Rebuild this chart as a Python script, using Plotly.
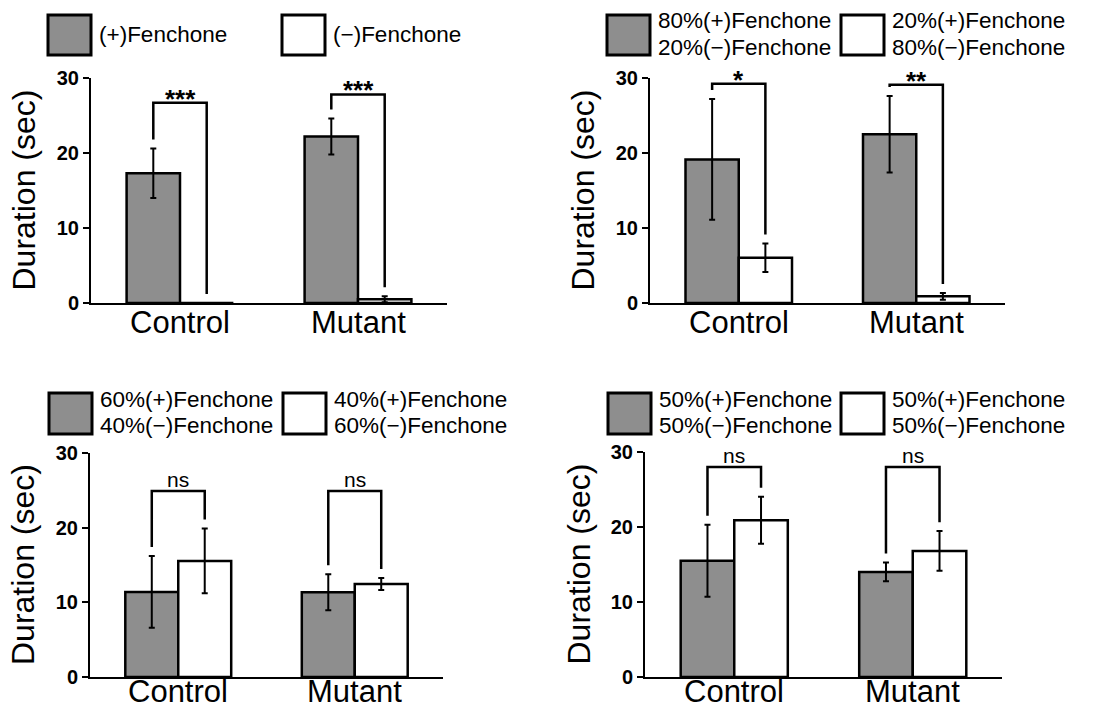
import plotly.graph_objects as go

W, H = 1095, 710

categories = ["Control", "Mutant"]
y_ticks = [0, 10, 20, 30]

# Panel 1: (+)Fenchone vs (-)Fenchone
p1_grey = [17.3, 22.2]
p1_grey_err = [3.3, 2.4]
p1_white = [0.0, 0.5]
p1_white_err = [0.0, 0.4]
p1_bracket = [26.7, 27.8]
p1_sig = ["***", "***"]
p1_leg_grey = ["(+)Fenchone"]
p1_leg_white = ["(\u2212)Fenchone"]

# Panel 2: 80/20 vs 20/80
p2_grey = [19.15, 22.5]
p2_grey_err = [8.05, 5.1]
p2_white = [6.05, 0.9]
p2_white_err = [1.9, 0.45]
p2_bracket = [29.25, 29.1]
p2_sig = ["*", "**"]
p2_leg_grey = ["80%(+)Fenchone", "20%(\u2212)Fenchone"]
p2_leg_white = ["20%(+)Fenchone", "80%(\u2212)Fenchone"]

# Panel 3: 60/40 vs 40/60
p3_grey = [11.4, 11.35]
p3_grey_err = [4.8, 2.4]
p3_white = [15.55, 12.45]
p3_white_err = [4.35, 0.8]
p3_bracket = [24.9, 24.9]
p3_sig = ["ns", "ns"]
p3_leg_grey = ["60%(+)Fenchone", "40%(\u2212)Fenchone"]
p3_leg_white = ["40%(+)Fenchone", "60%(\u2212)Fenchone"]

# Panel 4: 50/50 vs 50/50
p4_grey = [15.5, 14.0]
p4_grey_err = [4.8, 1.25]
p4_white = [20.9, 16.8]
p4_white_err = [3.15, 2.65]
p4_bracket = [28.0, 28.0]
p4_sig = ["ns", "ns"]
p4_leg_grey = ["50%(+)Fenchone", "50%(\u2212)Fenchone"]
p4_leg_white = ["50%(+)Fenchone", "50%(\u2212)Fenchone"]

GREY = "#8e8e8e"
FONT = "Liberation Sans, Arial, Helvetica, sans-serif"
BAR_W = 0.3
GAP = 1.2


def px(x):
    return x / W


def py(y):
    return 1 - y / H


panels = [
    dict(grey=p1_grey, grey_err=p1_grey_err, white=p1_white, white_err=p1_white_err,
         bracket=p1_bracket, sig=p1_sig, lg=p1_leg_grey, lw=p1_leg_white,
         box=(91, 447, 78, 303), lab=19, leg=dict(gx=48, wx=282, y0=15, y1=55)),
    dict(grey=p2_grey, grey_err=p2_grey_err, white=p2_white, white_err=p2_white_err,
         bracket=p2_bracket, sig=p2_sig, lg=p2_leg_grey, lw=p2_leg_white,
         box=(650, 1005, 78, 303), lab=19, leg=dict(gx=607, wx=841, y0=15, y1=55)),
    dict(grey=p3_grey, grey_err=p3_grey_err, white=p3_white, white_err=p3_white_err,
         bracket=p3_bracket, sig=p3_sig, lg=p3_leg_grey, lw=p3_leg_white,
         box=(90, 443, 453, 677), lab=14, leg=dict(gx=49, wx=283, y0=393, y1=434)),
    dict(grey=p4_grey, grey_err=p4_grey_err, white=p4_white, white_err=p4_white_err,
         bracket=p4_bracket, sig=p4_sig, lg=p4_leg_grey, lw=p4_leg_white,
         box=(645, 1002, 452, 677), lab=14, leg=dict(gx=608, wx=841, y0=393, y1=434)),
]

fig = go.Figure()
shapes = []
annotations = []
layout = {}

xs = list(range(len(categories)))

for i, p in enumerate(panels):
    n = "" if i == 0 else str(i + 1)
    xa, ya = "x" + n, "y" + n
    for vals, errs, color, off in [(p["grey"], p["grey_err"], GREY, -BAR_W),
                                   (p["white"], p["white_err"], "white", 0.0)]:
        fig.add_trace(go.Bar(
            x=xs, y=vals, width=BAR_W, offset=off,
            marker=dict(color=color, line=dict(color="black", width=2.5)),
            error_y=dict(type="data", array=errs, color="black", thickness=2, width=3),
            xaxis=xa, yaxis=ya, showlegend=False, hoverinfo="skip",
        ))
    x0, x1, y0, y1 = p["box"]
    layout["xaxis" + n] = dict(
        domain=[px(x0), px(x1)], anchor=ya, range=[-0.5, 1.5], automargin=False,
        tickvals=xs, ticktext=categories, showticklabels=False, ticks="", showline=True,
        linecolor="black", linewidth=2, showgrid=False, zeroline=False,
    )
    layout["yaxis" + n] = dict(
        domain=[py(y1), py(y0)], anchor=xa, range=[0, 30], tickvals=y_ticks,
        automargin=False,
        ticks="outside", ticklen=6, tickwidth=2, tickcolor="black",
        showline=True, linecolor="black", linewidth=2, showgrid=False, zeroline=False,
        tickfont=dict(family=FONT, size=20, color="black", weight="bold"),
    )
    # category labels
    for c, name in zip(xs, categories):
        annotations.append(dict(
            text=name, xref=xa, yref="paper", x=c, y=py(y1 + p["lab"]),
            xanchor="center", yanchor="middle", showarrow=False,
            font=dict(family=FONT, size=31, color="black"),
        ))
    # y title
    annotations.append(dict(
        text="Duration (sec)", textangle=-90, xref="paper", yref="paper",
        x=px(x0 - 67), y=py((y0 + y1) / 2), xanchor="center", yanchor="middle",
        showarrow=False, font=dict(family=FONT, size=32, color="black"),
    ))
    # brackets
    for k, c in enumerate(xs):
        xl = c - BAR_W / 2
        xr = c + BAR_W / 2
        top = p["bracket"][k]
        bl = p["grey"][k] + p["grey_err"][k] + GAP
        br = p["white"][k] + p["white_err"][k] + GAP
        line = dict(color="black", width=2.5)
        shapes.append(dict(type="path", xref=xa, yref=ya,
                           path=f"M {xl},{bl} L {xl},{top} L {xr},{top} L {xr},{br}",
                           line=line))
        sig = p["sig"][k]
        is_star = "*" in sig
        annotations.append(dict(
            text=sig, xref=xa, yref=ya, x=c, y=top, xanchor="center", yanchor="bottom",
            showarrow=False, yshift=-13 if is_star else -2,
            font=dict(family=FONT, size=26 if is_star else 21, color="black",
                      weight="bold" if is_star else "normal"),
        ))
    # legend
    lg = p["leg"]
    for bx, labels, color in [(lg["gx"], p["lg"], GREY), (lg["wx"], p["lw"], "white")]:
        shapes.append(dict(type="rect", xref="paper", yref="paper",
                           x0=px(bx), x1=px(bx + 43), y0=py(lg["y1"]), y1=py(lg["y0"]),
                           fillcolor=color, line=dict(color="black", width=3)))
        yc = (lg["y0"] + lg["y1"]) / 2 - 1
        nl = len(labels)
        spacing = 26
        for j, t in enumerate(labels):
            yy = yc + (j - (nl - 1) / 2) * spacing
            annotations.append(dict(
                text=t, xref="paper", yref="paper", x=px(bx + 49), y=py(yy),
                xanchor="left", yanchor="middle", showarrow=False,
                font=dict(family=FONT, size=22.5, color="black"),
            ))

fig.update_layout(
    template="none",
    width=W, height=H, margin=dict(l=0, r=0, t=0, b=0, autoexpand=False),
    paper_bgcolor="white", plot_bgcolor="white",
    shapes=shapes, annotations=annotations, showlegend=False,
    font=dict(family=FONT, color="black"),
    **layout,
)

fig.write_html("out.html")
